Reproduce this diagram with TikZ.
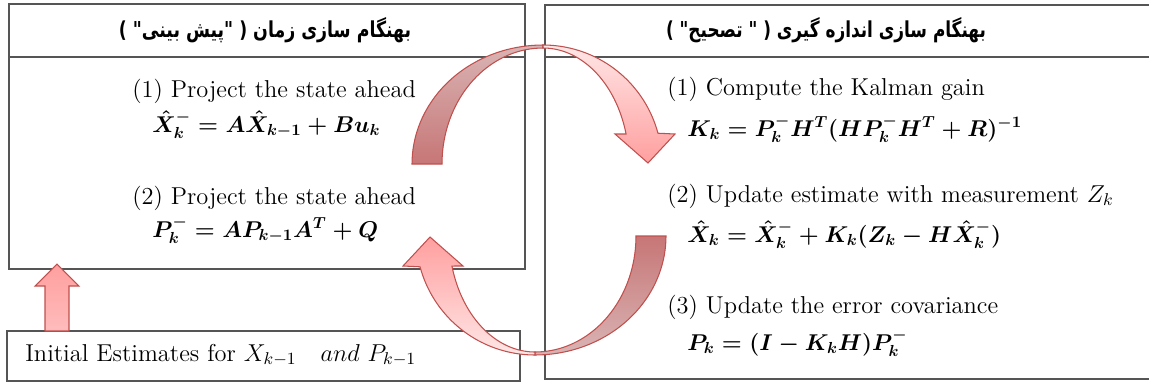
\RequirePackage{fix-cm}
\documentclass[tikz,border=0pt]{standalone}
\usepackage{fontspec}
\usepackage{amsmath}
\usepackage{amssymb}
\usepackage{xcolor}
\usepackage{tikz}
\usetikzlibrary{positioning,calc}
\newfontfamily\farsifont[Script=Arabic]{DejaVu Sans}
\TeXXeTstate=1
\definecolor{BoxLine}{HTML}{555555}
\definecolor{ArcLine}{HTML}{C0504D}
\definecolor{DarkTop}{HTML}{D9B4B4}
\definecolor{DarkBot}{HTML}{C77676}
\definecolor{LightTop}{HTML}{FFE6E6}
\definecolor{LightBot}{HTML}{FF9F9F}
\tikzset{
  boxnode/.style={draw=BoxLine,line width=0.8pt,anchor=north west,inner sep=0pt,outer sep=0pt},
  hdtext/.style={inner sep=0pt,font=\farsifont\bfseries\fontsize{12.5}{14}\selectfont},
  stepnode/.style={anchor=base west,inner sep=0pt,font=\fontsize{13.9}{16}\selectfont},
  eqnode/.style={anchor=base west,inner sep=0pt,font=\fontsize{13}{16}\selectfont\boldmath},
  arcdark/.style={draw=ArcLine,line width=0.6pt,top color=DarkTop,bottom color=DarkBot},
  arclight/.style={draw=ArcLine,line width=0.6pt,top color=LightTop,bottom color=LightBot},
  uparr/.style={draw=ArcLine,line width=0.6pt,top color=LightBot,bottom color=LightBot!70!white},
}
% one half of the cycle, shading angle as argument
\newcommand{\cyclearrow}[1]{%
  \shade[arcdark,shading angle=#1]
    plot[domain=180:270,samples=40] ({543+131*cos(\x)},{164+119*sin(\x)})
    -- plot[domain=270:180,samples=40] ({543+101*cos(\x)},{164+116*sin(\x)}) -- cycle;
  \shade[arclight,shading angle=#1]
    plot[domain=270:345,samples=40] ({543+119*cos(\x)},{164+119*sin(\x)})
    -- (675,134) -- (648,163) -- (615,134)
    -- plot[domain=345:270,samples=40] ({543+86*cos(\x)},{164+116*sin(\x)}) -- cycle;}

\begin{document}
\begin{tikzpicture}[x=0.02cm,y=-0.02cm,node distance=0pt]
  \useasboundingbox (0,0) rectangle (1149,383);
  % boxes
  \node[boxnode,minimum width=10.32cm,minimum height=1.06cm] (predhead) at (9,4) {};
  \node[boxnode,minimum width=10.32cm,minimum height=4.24cm,below=of predhead] (predbody) {};
  \node[boxnode,minimum width=12.3cm,minimum height=1.04cm] (corrhead) at (545,5) {};
  \node[boxnode,minimum width=12.3cm,minimum height=6.44cm,below=of corrhead] (corrbody) {};
  \node[boxnode,minimum width=10.26cm,minimum height=1.0cm] (init) at (7,331) {};
  % headers
  \node[hdtext] (predtitle) at (265,30) {\scalebox{0.79}[1]{\beginR بهنگام سازی زمان ( "پیش بینی" )\endR}};
  \node[hdtext] (corrtitle) at (826,30) {\scalebox{0.77}[1]{\beginR بهنگام سازی اندازه گیری ( " تصحیح" )\endR}};
  % time update
  \node[stepnode] (p1) at (132,97) {(1) Project the state ahead};
  \node[eqnode] (p1eq) at (152,132) {$\hat{X}_k^- = A\hat{X}_{k-1} + Bu_k$};
  \node[stepnode] (p2) at (132,204) {(2) Project the state ahead};
  \node[eqnode] (p2eq) at (152,237) {$P_k^- = AP_{k-1}A^T + Q$};
  % measurement update
  \node[stepnode] (c1) at (667,95) {(1) Compute the Kalman gain};
  \node[eqnode] (c1eq) at (687,136) {$K_k = P_k^- H^T(HP_k^- H^T + R)^{-1}$};
  \node[stepnode] (c2) at (667,202) {(2) Update estimate with measurement $Z_k$};
  \node[eqnode] (c2eq) at (687,242) {$\hat{X}_k = \hat{X}_k^- + K_k(Z_k - H\hat{X}_k^-)$};
  \node[stepnode] (c3) at (667,313) {(3) Update the error covariance};
  \node[eqnode] (c3eq) at (687,350) {$P_k = (I - K_kH)P_k^-$};
  % initial values
  \node[stepnode] (inittxt) at (25,361) {Initial Estimates for $X_{k-1}$ \ \ $and$ $P_{k-1}$};
  \coordinate (upfoot) at ($(init.north west)+(50,0)$);
  \shade[uparr] ($(upfoot)+(-12,0)$) -- ++(0,-45) -- ++(-10,0) -- ++(22,-22)
    -- ++(22,22) -- ++(-10,0) -- ++(0,45) -- cycle;
  % cycle arrows
  \cyclearrow{0}
  \begin{scope}[rotate around={180:(539,200)}]
    \cyclearrow{180}
  \end{scope}
\end{tikzpicture}
\end{document}
